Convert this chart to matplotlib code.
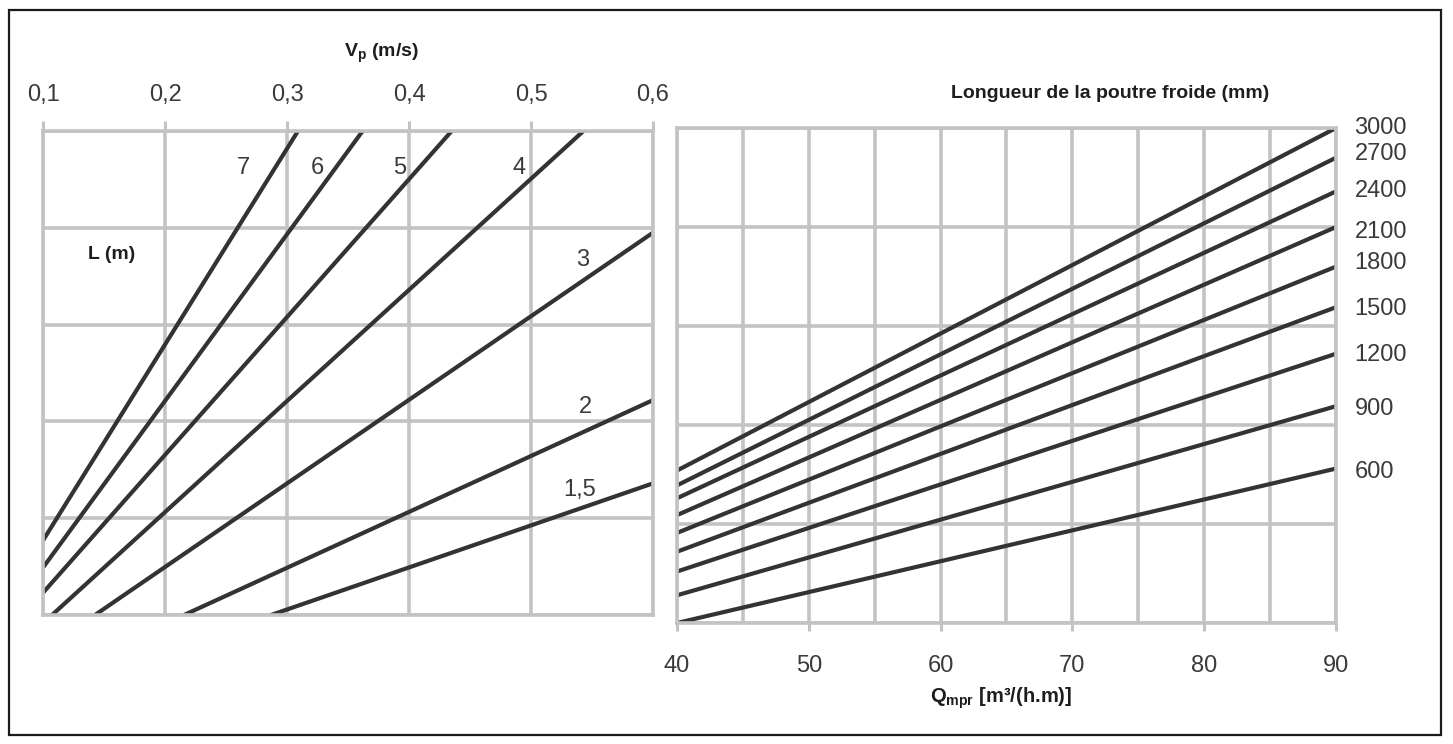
import matplotlib
matplotlib.use("Agg")
import matplotlib.pyplot as plt
from matplotlib.patches import Rectangle
from matplotlib.ticker import MultipleLocator

# left nomogram: air velocity Vp vs curves per beam length L (m)
L_labels = ["7", "6", "5", "4", "3", "2", "1,5"]
L_vp = [
    [0.100, 0.309],
    [0.100, 0.362],
    [0.100, 0.435],
    [0.1074, 0.543],
    [0.1426, 0.600],
    [0.2156, 0.600],
    [0.2869, 0.600],
]
L_y = [
    [0.77, 5.0],
    [0.49, 5.0],
    [0.23, 5.0],
    [0.0, 5.0],
    [0.0, 3.95],
    [0.0, 2.22],
    [0.0, 1.36],
]
vp_ticks = [0.1, 0.2, 0.3, 0.4, 0.5, 0.6]
vp_ticklabels = ["0,1", "0,2", "0,3", "0,4", "0,5", "0,6"]

# right nomogram: Qmpr vs beam length (mm)
lengths = [600, 900, 1200, 1500, 1800, 2100, 2400, 2700, 3000]
q_ends = [40, 90]
y_at_40 = [0.0, 0.28, 0.52, 0.72, 0.91, 1.09, 1.26, 1.39, 1.54]
y_at_90 = [1.56, 2.19, 2.72, 3.19, 3.60, 4.00, 4.36, 4.70, 5.00]
q_ticks = [40, 50, 60, 70, 80, 90]

# label placement (data coords)
L_label_pos = [(0.264, 4.62), (0.3246, 4.62), (0.3926, 4.62), (0.490, 4.62),
               (0.5426, 3.67), (0.5443, 2.15), (0.540, 1.29)]
len_label_y = [1.53, 2.16, 2.71, 3.17, 3.64, 3.95, 4.36, 4.74, 5.0]

plt.rcParams['font.family'] = ['Liberation Sans', 'DejaVu Sans']
plt.rcParams['mathtext.fontset'] = 'custom'
plt.rcParams['mathtext.rm'] = 'Liberation Sans'
plt.rcParams['mathtext.bf'] = 'Liberation Sans:bold'
grid_c = '#c3c3c3'
line_c = '#333333'
txt_c = '#3a3a3a'
title_c = '#1e1e1e'

W, H = 1453, 744
fig = plt.figure(figsize=(W / 100, H / 100), dpi=100)

def px_axes(x0, y0, x1, y1):
    return fig.add_axes([x0 / W, 1 - y1 / H, (x1 - x0) / W, (y1 - y0) / H])

def style(ax):
    for s in ax.spines.values():
        s.set_color(grid_c)
        s.set_linewidth(2.6)
    ax.grid(True, which='both', color=grid_c, linewidth=2.6)
    ax.set_axisbelow(True)
    ax.tick_params(which='both', colors=grid_c, labelcolor=txt_c, labelsize=17, width=2.2)
    ax.tick_params(axis='y', which='both', left=False, right=False,
                   labelleft=False, labelright=False)

# left panel
axl = px_axes(43, 131, 653, 615)
axl.set_xlim(0.1, 0.6)
axl.set_ylim(0, 5)
axl.set_xticks(vp_ticks)
axl.set_xticklabels(vp_ticklabels)
axl.xaxis.tick_top()
axl.set_yticks([0, 1, 2, 3, 4, 5])
style(axl)
axl.tick_params(axis='x', length=7, pad=11)
for vp, yy in zip(L_vp, L_y):
    axl.plot(vp, yy, color=line_c, lw=3.0, solid_capstyle='butt')
for lab, (xx, yy) in zip(L_labels, L_label_pos):
    axl.text(xx, yy, lab, fontsize=17, color=txt_c, ha='center', va='center')
axl.text(0.1566, 3.72, 'L (m)', fontsize=14, color=title_c, ha='center',
         va='center', weight='bold')

# right panel
axr = px_axes(677, 128, 1336, 623)
axr.set_xlim(40, 90)
axr.set_ylim(0, 5)
axr.set_xticks(q_ticks)
axr.xaxis.set_minor_locator(MultipleLocator(5))
axr.set_yticks([0, 1, 2, 3, 4, 5])
style(axr)
axr.tick_params(axis='x', which='major', length=6, pad=17)
axr.tick_params(axis='x', which='minor', length=0)
for i, ln in enumerate(lengths):
    axr.plot(q_ends, [y_at_40[i], y_at_90[i]], color=line_c, lw=3.0,
             solid_capstyle='butt')
    axr.text(91.4, len_label_y[i], str(ln), fontsize=17, color=txt_c,
             ha='left', va='center', clip_on=False)

# axis titles
fig.text(382 / W, 1 - 53 / H, r'$\mathbf{V_p}$ (m/s)', fontsize=14,
         color=title_c, ha='center', va='center', weight='bold')
fig.text(1110 / W, 1 - 93 / H, 'Longueur de la poutre froide (mm)', fontsize=14,
         color=title_c, ha='center', va='center', weight='bold')
fig.text(1001 / W, 1 - 698 / H, r'$\mathbf{Q_{mpr}}$ [m³/(h.m)]', fontsize=14.5,
         color=title_c, ha='center', va='center', weight='bold')

# outer frame
fig.patches.append(Rectangle((9 / W, 1 - 735 / H), (1441 - 9) / W, (735 - 10) / H,
                             transform=fig.transFigure, fill=False,
                             edgecolor='#1a1a1a', linewidth=1.6))

fig.savefig('out.png', dpi=100)
